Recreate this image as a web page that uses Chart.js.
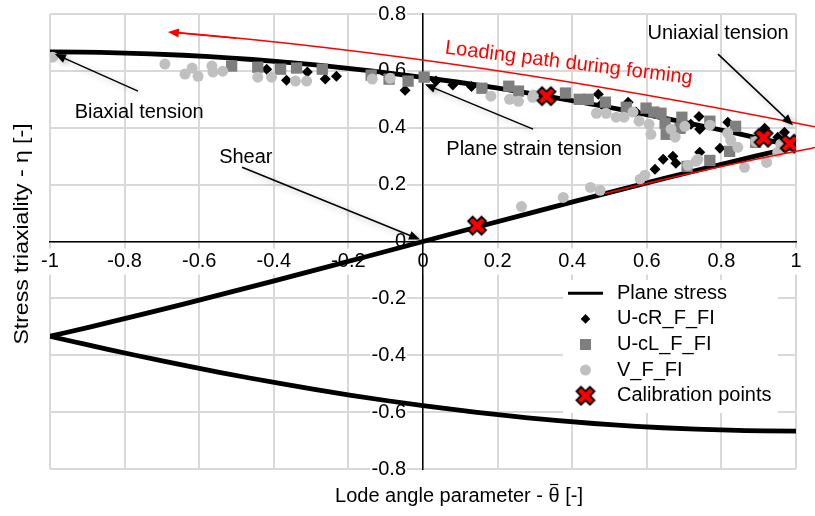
<!DOCTYPE html>
<html>
<head>
<meta charset="utf-8">
<script src="https://cdn.jsdelivr.net/npm/chart.js@4"></script>
<style>
  body { margin: 0; background: #fff; }
  #wrap { width: 815px; height: 516px; }
</style>
</head>
<body>
<div id="wrap"><canvas id="myChart" width="815" height="516"></canvas></div>
<script>
// tick values
var xTickValues = [-1, -0.8, -0.6, -0.4, -0.2, 0, 0.2, 0.4, 0.6, 0.8, 1];
var yTickValues = [-0.8, -0.6, -0.4, -0.2, 0, 0.2, 0.4, 0.6, 0.8];

var seriesNames = ['Plane stress', 'U-cR_F_FI', 'U-cL_F_FI', 'V_F_FI', 'Calibration points'];

// [lode angle parameter, stress triaxiality]
var planeStressPoints = [
    [-1, 0.6667], [-0.915, 0.666], [-0.865, 0.665], [-0.731, 0.66], [-0.642, 0.655], [-0.572, 0.65],
    [-0.512, 0.645], [-0.458, 0.64], [-0.363, 0.63], [-0.281, 0.62], [-0.139, 0.60], [0, 0.577],
    [0.095, 0.56], [0.197, 0.54], [0.291, 0.52], [0.380, 0.50], [0.465, 0.48], [0.546, 0.46],
    [0.623, 0.44], [0.699, 0.42], [0.771, 0.40], [0.842, 0.38], [0.910, 0.36], [0.945, 0.35],
    [1, 0.3333], [0.956, 0.32], [0.891, 0.30], [0.828, 0.28], [0.734, 0.25], [0.642, 0.22],
    [0.522, 0.18], [0.404, 0.14], [0.287, 0.10], [0.143, 0.05], [0, 0], [-0.143, -0.05],
    [-0.287, -0.10], [-0.404, -0.14], [-0.522, -0.18], [-0.642, -0.22], [-0.734, -0.25],
    [-0.828, -0.28], [-0.891, -0.30], [-0.956, -0.32], [-1, -0.3333], [-0.945, -0.35],
    [-0.910, -0.36], [-0.842, -0.38], [-0.771, -0.40], [-0.699, -0.42], [-0.623, -0.44],
    [-0.546, -0.46], [-0.465, -0.48], [-0.380, -0.50], [-0.291, -0.52], [-0.197, -0.54],
    [-0.095, -0.56], [0, -0.577], [0.139, -0.60], [0.281, -0.62], [0.363, -0.63], [0.458, -0.64],
    [0.512, -0.645], [0.572, -0.65], [0.642, -0.655], [0.731, -0.66], [0.865, -0.665],
    [0.915, -0.666], [1, -0.6667]
];

var ucrPoints = [
    [-0.419, 0.606], [-0.366, 0.567], [-0.310, 0.596], [-0.262, 0.571], [-0.232, 0.581],
    [-0.048, 0.532], [0.035, 0.564], [0.080, 0.550], [0.130, 0.545], [0.470, 0.518], [0.478, 0.483],
    [0.550, 0.490], [0.571, 0.455], [0.676, 0.391], [0.697, 0.412], [0.718, 0.412], [0.742, 0.395],
    [0.740, 0.440], [0.817, 0.419], [0.916, 0.398], [0.969, 0.384], [0.951, 0.367], [0.796, 0.328],
    [0.742, 0.314], [0.678, 0.275], [0.644, 0.289], [0.622, 0.254], [0.670, 0.300]
];

var uclPoints = [
    [-0.513, 0.617], [-0.443, 0.613], [-0.382, 0.606], [-0.339, 0.610], [-0.270, 0.606],
    [-0.139, 0.585], [-0.091, 0.571], [-0.040, 0.564], [0.003, 0.578], [0.158, 0.539],
    [0.230, 0.546], [0.256, 0.529], [0.382, 0.522], [0.419, 0.500], [0.443, 0.500], [0.489, 0.490],
    [0.545, 0.472], [0.598, 0.469], [0.619, 0.455], [0.638, 0.451], [0.649, 0.416], [0.652, 0.377],
    [0.689, 0.398], [0.694, 0.437], [0.769, 0.423], [0.838, 0.405], [0.892, 0.349], [0.822, 0.317],
    [0.769, 0.285], [0.708, 0.264]
];

var vPoints = [
    [-0.993, 0.648], [-0.692, 0.624], [-0.638, 0.589], [-0.619, 0.610], [-0.603, 0.581],
    [-0.566, 0.617], [-0.563, 0.596], [-0.537, 0.599], [-0.443, 0.578], [-0.406, 0.578],
    [-0.342, 0.564], [-0.312, 0.564], [-0.136, 0.571], [-0.088, 0.574], [0.182, 0.511],
    [0.232, 0.500], [0.256, 0.493], [0.294, 0.507], [0.296, 0.515], [0.465, 0.451], [0.491, 0.451],
    [0.518, 0.437], [0.539, 0.437], [0.563, 0.455], [0.579, 0.423], [0.606, 0.412], [0.611, 0.377],
    [0.665, 0.395], [0.676, 0.367], [0.702, 0.405], [0.769, 0.409], [0.817, 0.381], [0.825, 0.356],
    [0.844, 0.331], [0.862, 0.261], [0.892, 0.352], [0.921, 0.278], [0.951, 0.314], [0.959, 0.342],
    [0.264, 0.123], [0.376, 0.155], [0.449, 0.190], [0.475, 0.180], [0.582, 0.219], [0.595, 0.233],
    [0.710, 0.268], [0.737, 0.289], [0.732, 0.282]
];

var calibPoints = [[0.331, 0.511], [0.913, 0.365], [0.983, 0.344], [0.145, 0.056]];

var fontFamily = '"Liberation Sans", Arial, sans-serif';

function toXY(arr) {
    return arr.map(function(p) { return { x: p[0], y: p[1] }; });
}

// red cross with black outline for the calibration points
function makeCross() {
    var c = document.createElement('canvas');
    c.width = 24;
    c.height = 24;
    var g = c.getContext('2d');
    var h = 3.2, L = 9.5;
    g.translate(12, 12);
    g.rotate(Math.PI / 4);
    g.beginPath();
    g.moveTo(-h, -L); g.lineTo(h, -L); g.lineTo(h, -h); g.lineTo(L, -h); g.lineTo(L, h); g.lineTo(h, h);
    g.lineTo(h, L); g.lineTo(-h, L); g.lineTo(-h, h); g.lineTo(-L, h); g.lineTo(-L, -h); g.lineTo(-h, -h);
    g.closePath();
    g.fillStyle = '#ff0000';
    g.fill();
    g.lineWidth = 1.8;
    g.strokeStyle = '#000';
    g.stroke();
    return c;
}
var crossImg = makeCross();

function drawArrow(ctx, x1, y1, x2, y2, color, shadow) {
    var ang = Math.atan2(y2 - y1, x2 - x1);
    var len = 11, half = 4.5;
    ctx.save();
    ctx.strokeStyle = color;
    ctx.fillStyle = color;
    ctx.lineWidth = 1.5;
    if (shadow) {
        ctx.shadowColor = 'rgba(0,0,0,0.3)';
        ctx.shadowBlur = 6;
        ctx.shadowOffsetX = 2;
        ctx.shadowOffsetY = 2;
    }
    ctx.beginPath();
    ctx.moveTo(x1, y1);
    ctx.lineTo(x2 - Math.cos(ang) * len * 0.8, y2 - Math.sin(ang) * len * 0.8);
    ctx.stroke();
    ctx.beginPath();
    ctx.moveTo(x2, y2);
    ctx.lineTo(x2 - len * Math.cos(ang) + half * Math.sin(ang), y2 - len * Math.sin(ang) - half * Math.cos(ang));
    ctx.lineTo(x2 - len * Math.cos(ang) - half * Math.sin(ang), y2 - len * Math.sin(ang) + half * Math.cos(ang));
    ctx.closePath();
    ctx.fill();
    ctx.restore();
}

// labels and arrows placed in data coordinates
var annotations = [
    { text: 'Biaxial tension', at: [-0.761, 0.455], from: [-0.764, 0.529], to: [-0.987, 0.659] },
    { text: 'Shear', at: [-0.475, 0.296], from: [-0.485, 0.261], to: [-0.008, 0.007] },
    { text: 'Plane strain tension', at: [0.298, 0.324], from: [0.295, 0.395], to: [0.005, 0.553] },
    { text: 'Uniaxial tension', at: [0.791, 0.730], from: [0.791, 0.659], to: [0.992, 0.409] }
];

var annotationPlugin = {
    id: 'annotations',
    afterDatasetsDraw: function(chart) {
        var ctx = chart.ctx;
        var xs = chart.scales.x, ys = chart.scales.y;
        function px(v) { return xs.getPixelForValue(v); }
        function py(v) { return ys.getPixelForValue(v); }

        // loading path (red)
        ctx.save();
        ctx.strokeStyle = '#ff0000';
        ctx.lineWidth = 1.5;
        ctx.beginPath();
        ctx.moveTo(px(0.488), py(0.169));
        ctx.quadraticCurveTo(px(0.796), py(0.268), px(1.043), py(0.328));
        ctx.bezierCurveTo(px(1.097), py(0.349), px(1.097), py(0.395), px(1.043), py(0.405));
        ctx.quadraticCurveTo(px(0.121), py(0.648), px(-0.66), py(0.735));
        ctx.stroke();
        ctx.restore();
        drawArrow(ctx, px(-0.5), py(0.715), px(-0.684), py(0.737), '#ff0000', false);

        ctx.save();
        ctx.translate(px(0.391), py(0.627));
        ctx.rotate(7 * Math.PI / 180);
        ctx.font = '20px ' + fontFamily;
        ctx.fillStyle = '#ff0000';
        ctx.textAlign = 'center';
        ctx.textBaseline = 'middle';
        ctx.fillText('Loading path during forming', 0, 0);
        ctx.restore();

        annotations.forEach(function(a) {
            drawArrow(ctx, px(a.from[0]), py(a.from[1]), px(a.to[0]), py(a.to[1]), '#000', true);
            ctx.save();
            ctx.font = '20px ' + fontFamily;
            ctx.fillStyle = '#000';
            ctx.textAlign = 'center';
            ctx.textBaseline = 'middle';
            ctx.fillText(a.text, px(a.at[0]), py(a.at[1]));
            ctx.restore();
        });
    },
    afterDraw: function(chart) {
        var ctx = chart.ctx;
        var ca = chart.chartArea;

        // axis titles
        ctx.save();
        ctx.font = '20px ' + fontFamily;
        ctx.fillStyle = '#000';
        ctx.textBaseline = 'middle';
        ctx.textAlign = 'left';
        var part1 = 'Lode angle parameter - ', part2 = '\u03B8', part3 = ' [-]';
        var w1 = ctx.measureText(part1).width, w2 = ctx.measureText(part2).width, w3 = ctx.measureText(part3).width;
        var tx = 459 - (w1 + w2 + w3) / 2, ty = 496;
        ctx.fillText(part1, tx, ty);
        ctx.fillText(part2, tx + w1, ty);
        ctx.fillText(part3, tx + w1 + w2, ty);
        // bar over theta
        ctx.strokeStyle = '#000';
        ctx.lineWidth = 1.2;
        ctx.beginPath();
        ctx.moveTo(tx + w1 + 1.5, ty - 11.5);
        ctx.lineTo(tx + w1 + w2 - 1.5, ty - 11.5);
        ctx.stroke();

        ctx.textAlign = 'center';
        ctx.translate(22, 234);
        ctx.rotate(-Math.PI / 2);
        ctx.scale(1.15, 1);
        ctx.fillText('Stress triaxiality - \u03B7 [-]', 0, 0);
        ctx.restore();

        // legend box
        var lx = ca.right - 233, ly = ca.bottom - 189;
        ctx.save();
        ctx.fillStyle = '#fff';
        ctx.fillRect(lx, ly, 215, 133);
        var sx = lx + 22.5;
        for (var i = 0; i < seriesNames.length; i++) {
            var cy = ly + 13.3 + i * 25.6;
            if (i == 0) {
                ctx.strokeStyle = '#000';
                ctx.lineWidth = 3;
                ctx.beginPath();
                ctx.moveTo(lx + 5, cy);
                ctx.lineTo(lx + 40, cy);
                ctx.stroke();
            } else if (i == 1) {
                ctx.fillStyle = '#000';
                ctx.beginPath();
                ctx.moveTo(sx, cy - 4.8); ctx.lineTo(sx + 4.8, cy); ctx.lineTo(sx, cy + 4.8); ctx.lineTo(sx - 4.8, cy);
                ctx.closePath();
                ctx.fill();
            } else if (i == 2) {
                ctx.fillStyle = '#7f7f7f';
                ctx.fillRect(sx - 5.5, cy - 5.5, 11, 11);
            } else if (i == 3) {
                ctx.fillStyle = '#c0c0c0';
                ctx.beginPath();
                ctx.arc(sx, cy, 5.5, 0, Math.PI * 2);
                ctx.fill();
            } else {
                ctx.drawImage(crossImg, sx - 12, cy - 12);
            }
            ctx.font = '20px ' + fontFamily;
            ctx.fillStyle = '#000';
            ctx.textAlign = 'left';
            ctx.textBaseline = 'middle';
            ctx.fillText(seriesNames[i], lx + 54, cy);
        }
        ctx.restore();
    }
};

function tickLabel(value) {
    return String(Math.round(value * 10) / 10);
}

// axes sit in the middle, so do not let their labels push the plot area
function noPadding(scale) {
    scale.paddingTop = 0;
    scale.paddingBottom = 0;
    scale.paddingLeft = 0;
    scale.paddingRight = 0;
}

var ctx = document.getElementById('myChart').getContext('2d');
var myChart = new Chart(ctx, {
    type: 'scatter',
    data: {
        datasets: [{
            label: seriesNames[0],
            data: toXY(planeStressPoints),
            showLine: true,
            borderColor: '#000',
            borderWidth: 4.8,
            borderJoinStyle: 'round',
            pointRadius: 0,
            fill: false,
            order: 5
        }, {
            label: seriesNames[1],
            data: toXY(ucrPoints),
            pointStyle: 'rectRot',
            pointRadius: 5.5,
            backgroundColor: '#000',
            borderWidth: 0,
            order: 4
        }, {
            label: seriesNames[2],
            data: toXY(uclPoints),
            pointStyle: 'rect',
            pointRadius: 8,
            backgroundColor: '#7f7f7f',
            borderWidth: 0,
            order: 3
        }, {
            label: seriesNames[3],
            data: toXY(vPoints),
            pointStyle: 'circle',
            pointRadius: 5.5,
            backgroundColor: '#c0c0c0',
            borderWidth: 0,
            order: 2
        }, {
            label: seriesNames[4],
            data: toXY(calibPoints),
            pointStyle: crossImg,
            pointRadius: 10,
            order: 1
        }]
    },
    options: {
        responsive: false,
        animation: false,
        devicePixelRatio: 1,
        layout: { padding: { left: 50, right: 19, top: 14, bottom: 47 } },
        plugins: {
            legend: { display: false },
            tooltip: { enabled: false }
        },
        scales: {
            x: {
                type: 'linear',
                position: 'center',
                min: -1,
                max: 1,
                afterBuildTicks: function(scale) {
                    scale.ticks = xTickValues.map(function(v) { return { value: v }; });
                },
                afterFit: noPadding,
                ticks: {
                    autoSkip: false,
                    maxRotation: 0,
                    minRotation: 0,
                    padding: 8,
                    color: '#000',
                    font: { size: 20, family: fontFamily },
                    callback: tickLabel,
                    showLabelBackdrop: true,
                    backdropColor: '#fff',
                    backdropPadding: 1,
                    z: -0.5
                },
                grid: { color: '#d9d9d9', lineWidth: 2, drawTicks: false },
                border: { color: '#000', width: 1.5, z: 0 }
            },
            y: {
                type: 'linear',
                position: 'center',
                min: -0.8,
                max: 0.8,
                afterBuildTicks: function(scale) {
                    scale.ticks = yTickValues.map(function(v) { return { value: v }; });
                },
                afterFit: noPadding,
                ticks: {
                    autoSkip: false,
                    padding: 17,
                    color: '#000',
                    font: { size: 20, family: fontFamily },
                    callback: tickLabel,
                    showLabelBackdrop: true,
                    backdropColor: '#fff',
                    backdropPadding: 1,
                    z: -0.5
                },
                grid: { color: '#d9d9d9', lineWidth: 2, drawTicks: false },
                border: { color: '#000', width: 1.5, z: 0 }
            }
        }
    },
    plugins: [annotationPlugin]
});
</script>
</body>
</html>
